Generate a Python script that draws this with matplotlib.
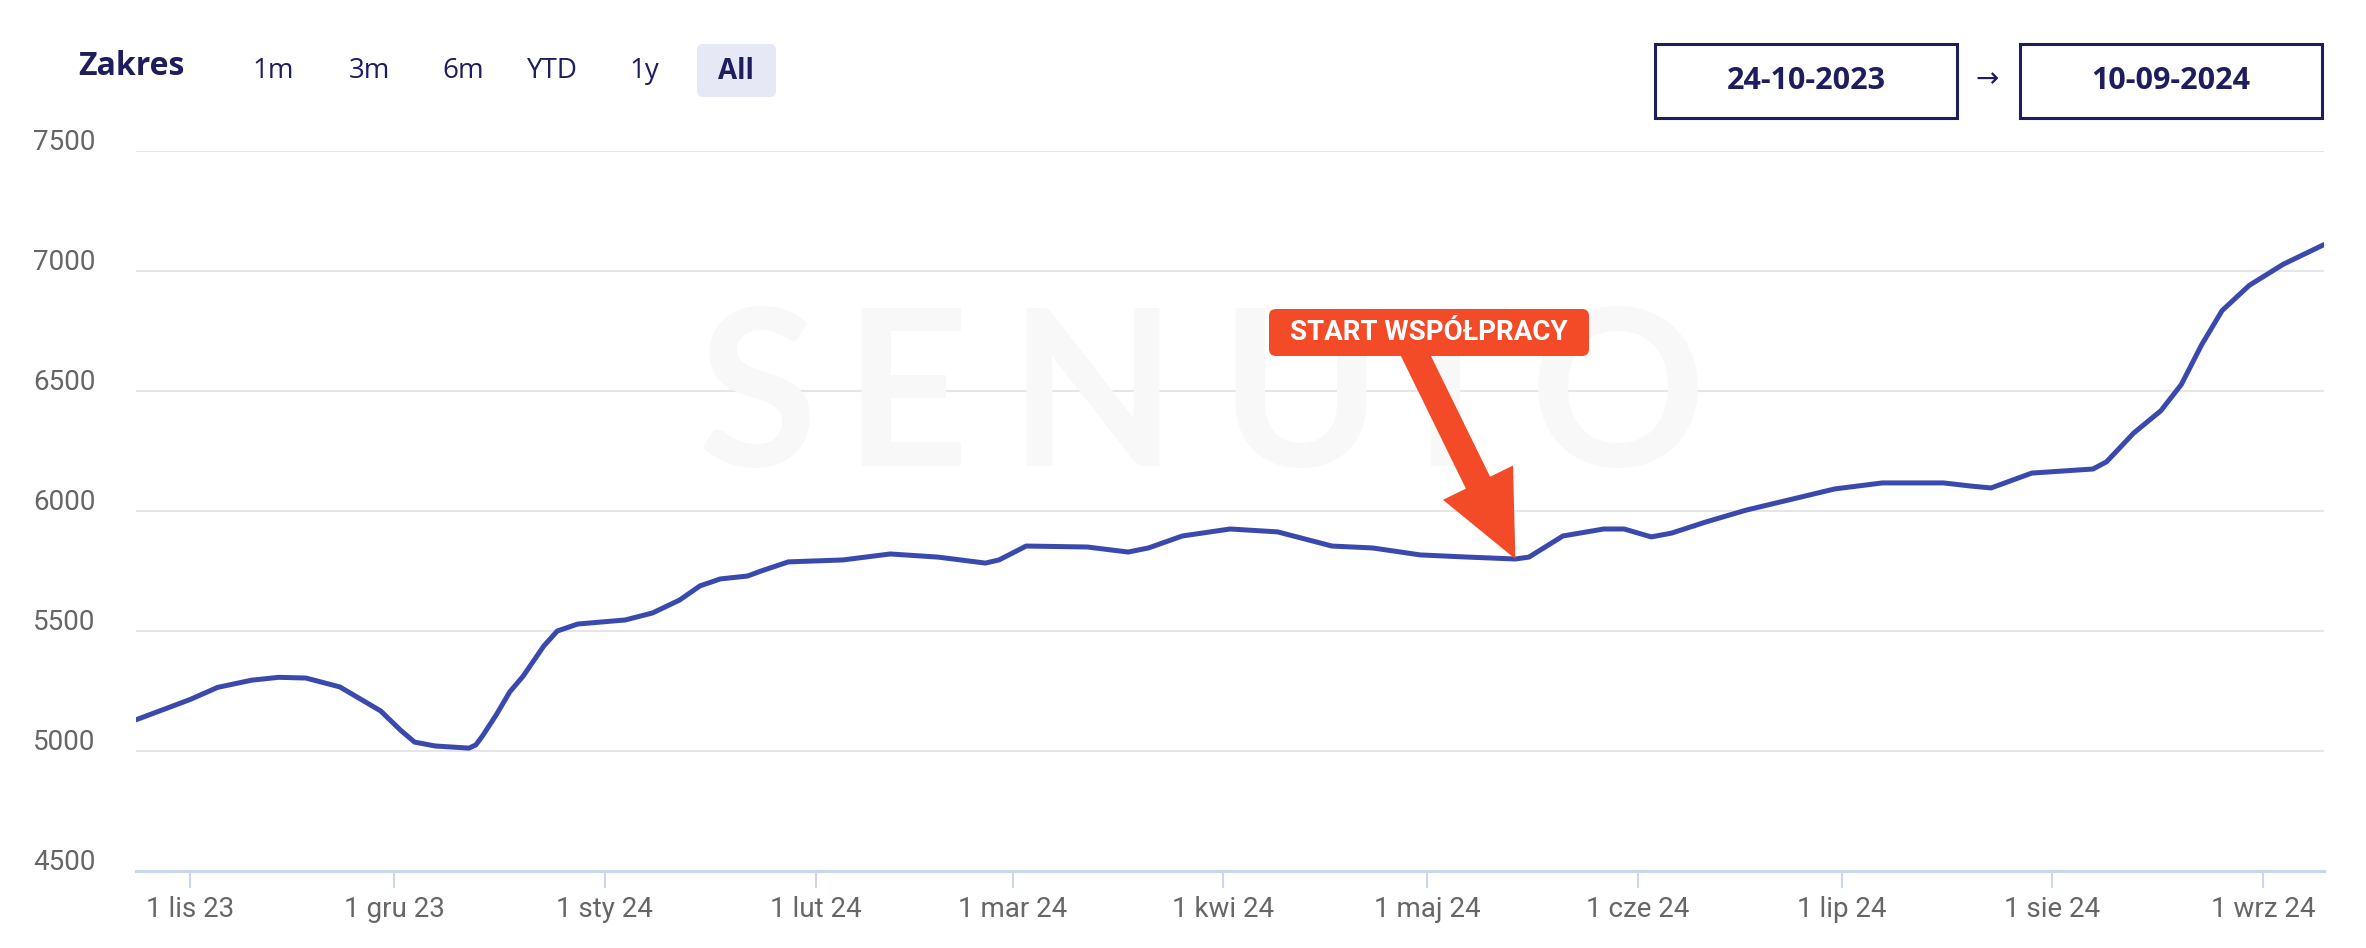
import numpy as np
import pandas as pd
import matplotlib
matplotlib.use('Agg')
import matplotlib.pyplot as plt
import matplotlib.dates as mdates
from matplotlib.patches import FancyBboxPatch, Rectangle, FancyArrow
from matplotlib.transforms import Affine2D, ScaledTranslation

# data
dates = ['2023-10-24', '2023-11-01', '2023-11-05', '2023-11-10', '2023-11-14', '2023-11-18',
         '2023-11-23', '2023-11-29', '2023-12-02', '2023-12-04', '2023-12-07', '2023-12-12',
         '2023-12-13', '2023-12-14', '2023-12-16', '2023-12-18', '2023-12-20', '2023-12-23',
         '2023-12-25', '2023-12-28', '2024-01-04', '2024-01-08', '2024-01-12', '2024-01-15',
         '2024-01-18', '2024-01-22', '2024-01-24', '2024-01-28', '2024-02-05', '2024-02-12',
         '2024-02-19', '2024-02-26', '2024-02-28', '2024-03-03', '2024-03-12', '2024-03-18',
         '2024-03-21', '2024-03-26', '2024-04-02', '2024-04-09', '2024-04-17', '2024-04-23',
         '2024-04-30', '2024-05-07', '2024-05-14', '2024-05-16', '2024-05-21', '2024-05-27',
         '2024-05-30', '2024-06-03', '2024-06-06', '2024-06-11', '2024-06-17', '2024-06-25',
         '2024-06-30', '2024-07-07', '2024-07-16', '2024-07-20', '2024-07-23', '2024-07-29',
         '2024-08-07', '2024-08-09', '2024-08-13', '2024-08-17', '2024-08-20', '2024-08-23',
         '2024-08-26', '2024-08-30', '2024-09-04', '2024-09-10']
values = [5130, 5215, 5265, 5295, 5307, 5304,
          5267, 5167, 5085, 5037, 5021, 5012,
          5025, 5063, 5150, 5246, 5313, 5437,
          5500, 5529, 5546, 5575, 5629, 5688,
          5717, 5729, 5750, 5788, 5796, 5821,
          5808, 5783, 5796, 5854, 5850, 5829,
          5846, 5896, 5925, 5913, 5854, 5846,
          5817, 5808, 5800, 5808, 5896, 5925,
          5925, 5892, 5908, 5954, 6004, 6058,
          6092, 6117, 6117, 6104, 6096, 6158,
          6175, 6205, 6325, 6418, 6527, 6693,
          6835, 6940, 7028, 7110]

tick_dates = ['2023-11-01', '2023-12-01', '2024-01-01', '2024-02-01', '2024-03-01', '2024-04-01',
              '2024-05-01', '2024-06-01', '2024-07-01', '2024-08-01', '2024-09-01']
tick_labels = ['1 lis 23', '1 gru 23', '1 sty 24', '1 lut 24', '1 mar 24', '1 kwi 24',
               '1 maj 24', '1 cze 24', '1 lip 24', '1 sie 24', '1 wrz 24']
y_ticks = [4500, 5000, 5500, 6000, 6500, 7000, 7500]

ranges = ['1m', '3m', '6m', 'YTD', '1y', 'All']
date_from = '24-10-2023'
date_to = '10-09-2024'
note = 'START WSPÓŁPRACY'
note_date = pd.Timestamp('2024-05-14')
note_value = 5800

navy = '#1e1d5e'
red = '#f34a27'
W, H = 2366, 948

fig = plt.figure(figsize=(W / 100, H / 100), dpi=100)
# pixel coords, origin top-left
pix = Affine2D().scale(1, -1).translate(0, H).scale(1 / W, 1 / H) + fig.transFigure

ax = fig.add_axes([136 / W, 1 - 871 / H, (2324 - 136) / W, (871 - 151) / H])
x = pd.to_datetime(dates)
ax.plot(x, values, color='#3a49ad', lw=3.6, solid_capstyle='round', solid_joinstyle='round', zorder=3)

ax.set_xlim(pd.Timestamp('2023-10-24'), pd.Timestamp('2024-09-10'))
ax.set_ylim(4500, 7500)
ax.set_xticks(pd.to_datetime(tick_dates))
ax.set_xticklabels(tick_labels)
ax.set_yticks(y_ticks)
ax.set_yticklabels([str(v) for v in y_ticks])

for s in ['top', 'right', 'left']:
    ax.spines[s].set_visible(False)
ax.spines['bottom'].set_color('#ccd6eb')
ax.spines['bottom'].set_linewidth(2.2)
ax.tick_params(axis='x', colors='#ccd6eb', length=12, width=1.5, pad=6,
               labelcolor='#666666', labelsize=20)
ax.tick_params(axis='y', length=0, pad=29, labelcolor='#666666', labelsize=20)
for lab in ax.get_xticklabels() + ax.get_yticklabels():
    lab.set_family('Roboto')
for lab in ax.get_yticklabels():
    lab.set_transform(lab.get_transform() + ScaledTranslation(0, 0.12, fig.dpi_scale_trans))
ax.set_axisbelow('line')
ax.grid(axis='y', color='#e6e6e6', lw=1.5)
ax.grid(axis='x', visible=False)

# watermark
for ch, cx in zip('SENUTO', [758, 906, 1092, 1300, 1445, 1618]):
    fig.text(cx, 403, ch, transform=pix, ha='center', va='center', fontsize=157,
             family='Lato', weight='bold', color='#f8f8f8', zorder=0.5)

# annotation box
fig.patches.append(FancyBboxPatch((1269, 309), 320, 47, boxstyle='round,pad=0,rounding_size=7',
                                  transform=pix, fc=red, ec='none', zorder=5))
fig.text(1429, 333, note, transform=pix, ha='center', va='center', fontsize=20,
         family='Roboto', weight='bold', color='white', zorder=6)

# arrow from box to the data point
tx, ty = ax.transData.transform((mdates.date2num(note_date), note_value))
ty = H - ty
sx, sy = 1413, 350
fig.patches.append(FancyArrow(sx, sy, tx - sx, ty - sy, width=27, head_width=78, head_length=85,
                              length_includes_head=True, transform=pix, fc=red, ec='none', zorder=4))

# range selector
fig.text(78, 66, 'Zakres', transform=pix, ha='left', va='center', fontsize=23,
         family='Open Sans', weight='bold', color=navy)
fig.patches.append(FancyBboxPatch((697, 44), 79, 53, boxstyle='round,pad=0,rounding_size=6',
                                  transform=pix, fc='#e6e9f5', ec='none'))
range_x = [273, 370, 463, 552, 644, 736]
for lbl, rx in zip(ranges, range_x):
    fig.text(rx, 71, lbl, transform=pix, ha='center', va='center', fontsize=20,
             family='Open Sans', weight='bold' if lbl == 'All' else 'normal', color=navy)

# date boxes
for (bx, txt) in [(1655, date_from), (2020, date_to)]:
    fig.patches.append(Rectangle((bx, 44), 302, 74, transform=pix, fc='white', ec=navy, lw=2.2))
    fig.text(bx + 151, 81, txt, transform=pix, ha='center', va='center', fontsize=22,
             family='Open Sans', weight='bold', color=navy)
fig.text(1987, 79, '→', transform=pix, ha='center', va='center', fontsize=20, color=navy)

fig.savefig('out.png', dpi=100, facecolor='white')
